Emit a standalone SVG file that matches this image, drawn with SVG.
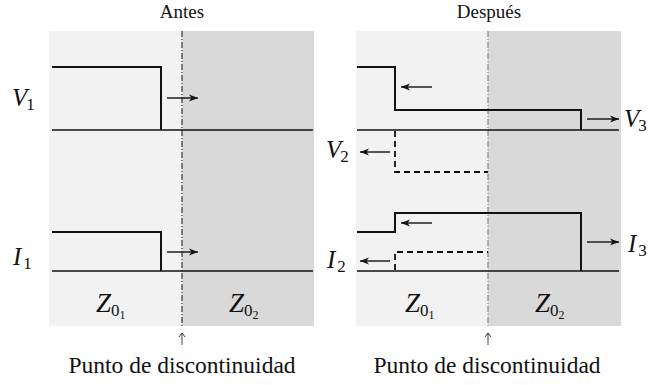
<svg xmlns="http://www.w3.org/2000/svg" width="654" height="385" viewBox="0 0 654 385">
<style>
.t{font-family:"Liberation Serif","Times New Roman",serif;fill:#111}
.lab{font-family:"Liberation Serif","Times New Roman",serif;font-style:italic;font-size:25px;fill:#111}
.z{font-family:"Liberation Serif","Times New Roman",serif;font-style:italic;font-size:27px;fill:#111}
.sub{font-style:normal;font-size:17px}
.ss{font-style:normal;font-size:12px}
.w{fill:none;stroke:#111;stroke-width:2}
.base{fill:none;stroke:#111;stroke-width:1.3}
.d{fill:none;stroke:#111;stroke-width:1.8;stroke-dasharray:6 4}
.ar{fill:none;stroke:#111;stroke-width:1.4;marker-end:url(#ah)}
</style>
<defs>
<marker id="ah" markerWidth="10" markerHeight="8" refX="9" refY="4" orient="auto" markerUnits="userSpaceOnUse">
<path d="M0,0.5 L9,4 L0,7.5 L2.5,4 Z" fill="#111"/>
</marker>
</defs>
<g id="titles">
<text class="t" x="182" y="17.5" font-size="19" text-anchor="middle">Antes</text>
<text class="t" x="489" y="17.5" font-size="19" text-anchor="middle">Después</text>
</g>
<g id="panel-antes">
<rect x="49" y="31" width="133" height="295" fill="#f2f2f2"/>
<rect x="182" y="31" width="132" height="295" fill="#d9d9d9"/>
<line x1="182" y1="31" x2="182" y2="326" stroke="#111" stroke-width="1" stroke-dasharray="6 2 1 2"/>
</g>
<g id="panel-despues">
<rect x="356" y="31" width="132" height="295" fill="#f2f2f2"/>
<rect x="488" y="31" width="133" height="295" fill="#d9d9d9"/>
<line x1="488" y1="31" x2="488" y2="326" stroke="#888" stroke-width="1.2" stroke-dasharray="6 2 1 2"/>
</g>
<g id="waves-antes">
<line class="base" x1="52" y1="130" x2="313" y2="130"/>
<polyline class="w" points="52,67 161,67 161,130"/>
<line class="base" x1="52" y1="271" x2="313" y2="271"/>
<polyline class="w" points="52,232 161,232 161,271"/>
</g>
<g id="waves-despues">
<line class="base" x1="357" y1="130" x2="619" y2="130"/>
<polyline class="w" points="357,67 395,67 395,110 581,110 581,130"/>
<polyline class="d" points="395,131 395,172 488,172"/>
<line class="base" x1="357" y1="271" x2="619" y2="271"/>
<polyline class="w" points="357,232 395,232 395,213 581,213 581,271"/>
<polyline class="d" points="395,270 395,252 488,252"/>
</g>
<g id="connectors">
<line class="ar" x1="167" y1="98" x2="198" y2="98"/>
<line class="ar" x1="167" y1="252" x2="198" y2="252"/>
<line class="ar" x1="432" y1="87" x2="401" y2="87"/>
<line class="ar" x1="587" y1="119" x2="619" y2="119"/>
<line class="ar" x1="390" y1="152" x2="360" y2="152"/>
<line class="ar" x1="432" y1="223" x2="401" y2="223"/>
<line class="ar" x1="390" y1="261" x2="360" y2="261"/>
<line class="ar" x1="587" y1="242" x2="619" y2="242"/>
<line x1="182" y1="345" x2="182" y2="333" stroke="#111" stroke-width="0.8"/>
<path d="M179,337 L182,333 L185,337" fill="none" stroke="#111" stroke-width="0.8"/>
<line x1="488" y1="345" x2="488" y2="333" stroke="#111" stroke-width="0.8"/>
<path d="M485,337 L488,333 L491,337" fill="none" stroke="#111" stroke-width="0.8"/>
</g>
<g id="labels">
<text class="lab" x="12" y="106">V<tspan class="sub" dx="-1" dy="4">1</tspan></text>
<text class="lab" x="13" y="265">I<tspan class="sub" dx="2" dy="4">1</tspan></text>
<text class="lab" x="326" y="158">V<tspan class="sub" dx="-1" dy="4">2</tspan></text>
<text class="lab" x="624" y="127">V<tspan class="sub" dx="-1" dy="4">3</tspan></text>
<text class="lab" x="327" y="268">I<tspan class="sub" dx="2" dy="4">2</tspan></text>
<text class="lab" x="628" y="252">I<tspan class="sub" dx="2" dy="4">3</tspan></text>
<text class="z" x="96" y="312">Z<tspan class="sub" dy="4">0</tspan><tspan class="ss" dy="3">1</tspan></text>
<text class="z" x="229" y="312">Z<tspan class="sub" dy="4">0</tspan><tspan class="ss" dy="3">2</tspan></text>
<text class="z" x="405" y="312">Z<tspan class="sub" dy="4">0</tspan><tspan class="ss" dy="3">1</tspan></text>
<text class="z" x="535" y="312">Z<tspan class="sub" dy="4">0</tspan><tspan class="ss" dy="3">2</tspan></text>
</g>
<g id="captions">
<text class="t" x="182" y="373" font-size="23.5" text-anchor="middle">Punto de discontinuidad</text>
<text class="t" x="487" y="373" font-size="23.5" text-anchor="middle">Punto de discontinuidad</text>
</g>
</svg>
